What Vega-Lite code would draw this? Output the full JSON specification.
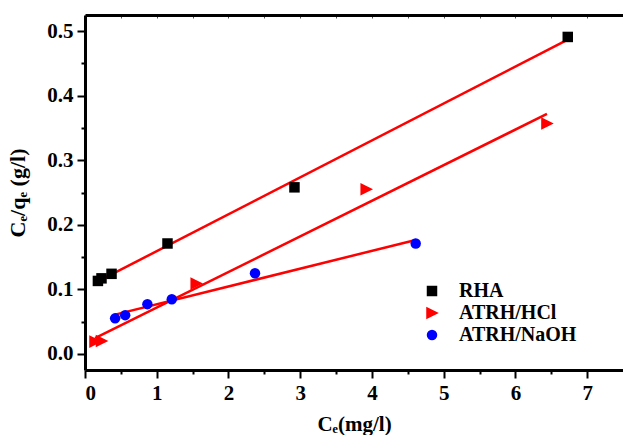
{
  "$schema": "https://vega.github.io/schema/vega-lite/v6.json",
  "width": 538,
  "height": 355,
  "autosize": {"type": "none"},
  "padding": {"left": 85, "top": 15, "right": 0, "bottom": 65},
  "background": "white",
  "config": {"view": {"stroke": null}, "font": "Times New Roman, Liberation Serif, serif"},
  "data": {
    "values": [
      {"series": "RHA", "x": 0.18, "y": 0.113},
      {"series": "RHA", "x": 0.23, "y": 0.117},
      {"series": "RHA", "x": 0.37, "y": 0.124},
      {"series": "RHA", "x": 1.15, "y": 0.171},
      {"series": "RHA", "x": 2.92, "y": 0.258},
      {"series": "RHA", "x": 6.73, "y": 0.491},
      {"series": "ATRH/HCl", "x": 0.14, "y": 0.019},
      {"series": "ATRH/HCl", "x": 0.23, "y": 0.02},
      {"series": "ATRH/HCl", "x": 1.55, "y": 0.109},
      {"series": "ATRH/HCl", "x": 3.92, "y": 0.255},
      {"series": "ATRH/HCl", "x": 6.44, "y": 0.357},
      {"series": "ATRH/NaOH", "x": 0.42, "y": 0.055},
      {"series": "ATRH/NaOH", "x": 0.56, "y": 0.06},
      {"series": "ATRH/NaOH", "x": 0.87, "y": 0.077},
      {"series": "ATRH/NaOH", "x": 1.21, "y": 0.0845},
      {"series": "ATRH/NaOH", "x": 2.37, "y": 0.125},
      {"series": "ATRH/NaOH", "x": 4.61, "y": 0.171}
    ]
  },
  "resolve": {"axis": {"x": "independent", "y": "independent"}},
  "layer": [
    {
      "transform": [{"regression": "y", "on": "x", "groupby": ["series"]}],
      "mark": {"type": "line", "color": "#ff0000", "strokeWidth": 2.5},
      "encoding": {
        "x": {
          "field": "x", "type": "quantitative",
          "scale": {"domain": [0, 7.5], "nice": false, "zero": false},
          "axis": {
            "orient": "top", "title": null, "labels": false,
            "values": [0, 0.5, 1, 1.5, 2, 2.5, 3, 3.5, 4, 4.5, 5, 5.5, 6, 6.5, 7],
            "domainColor": "black", "domainWidth": 3,
            "tickColor": "#555555", "tickWidth": 1, "tickSize": -3, "grid": false
          }
        },
        "y": {
          "field": "y", "type": "quantitative",
          "scale": {"domain": [-0.025, 0.525], "nice": false, "zero": false},
          "axis": null
        },
        "detail": {"field": "series"}
      }
    },
    {
      "mark": {"type": "point", "filled": true, "opacity": 1, "size": 110},
      "encoding": {
        "x": {
          "field": "x", "type": "quantitative",
          "axis": {
            "orient": "bottom",
            "values": [0, 0.5, 1, 1.5, 2, 2.5, 3, 3.5, 4, 4.5, 5, 5.5, 6, 6.5, 7],
            "labelExpr": "datum.value % 1 == 0 ? format(datum.value, 'd') : ''",
            "domainColor": "black", "domainWidth": 3,
            "tickColor": "black", "tickWidth": 2,
            "tickSize": {"condition": {"test": "datum.value % 1 == 0", "value": 8}, "value": 4},
            "labelFont": "Times New Roman, Liberation Serif, serif", "labelFontWeight": "bold", "labelFontSize": 21,
            "labelColor": "black", "labelPadding": 4, "grid": false,
            "title": "Cₑ(mg/l)", "titleFont": "Times New Roman, Liberation Serif, serif", "titleFontWeight": "bold",
            "titleFontSize": 21, "titleColor": "black", "titlePadding": 10
          }
        },
        "y": {
          "field": "y", "type": "quantitative",
          "axis": {
            "orient": "left",
            "values": [0, 0.05, 0.1, 0.15, 0.2, 0.25, 0.3, 0.35, 0.4, 0.45, 0.5],
            "labelExpr": "abs(datum.value*10 - round(datum.value*10)) < 0.001 ? format(datum.value, '.1f') : ''",
            "domainColor": "black", "domainWidth": 3,
            "tickColor": "black", "tickWidth": 2,
            "tickSize": {"condition": {"test": "abs(datum.value*10 - round(datum.value*10)) < 0.001", "value": 8}, "value": 4},
            "labelFont": "Times New Roman, Liberation Serif, serif", "labelFontWeight": "bold", "labelFontSize": 21,
            "labelColor": "black", "labelPadding": 4, "grid": false,
            "title": "Cₑ/qₑ (g/l)", "titleFont": "Times New Roman, Liberation Serif, serif", "titleFontWeight": "bold",
            "titleFontSize": 22, "titleColor": "black", "titlePadding": 17
          }
        },
        "color": {
          "field": "series", "type": "nominal",
          "scale": {"domain": ["RHA", "ATRH/HCl", "ATRH/NaOH"], "range": ["#000000", "#ff0000", "#0000ff"]},
          "legend": {
            "orient": "none", "legendX": 337, "legendY": 266, "title": null,
            "labelFont": "Times New Roman, Liberation Serif, serif", "labelFontWeight": "bold", "labelFontSize": 20,
            "labelColor": "black", "symbolSize": 110, "labelOffset": 17, "rowPadding": 2,
            "padding": 0,
            "labelExpr": "datum.label == 'RHA' ? '\u00a0\u00a0RHA' : datum.label"
          }
        },
        "shape": {
          "field": "series", "type": "nominal",
          "scale": {"domain": ["RHA", "ATRH/HCl", "ATRH/NaOH"], "range": ["square", "M-1.1,-1.2L1.3,0L-1.1,1.2Z", "circle"]}
        }
      }
    }
  ]
}
